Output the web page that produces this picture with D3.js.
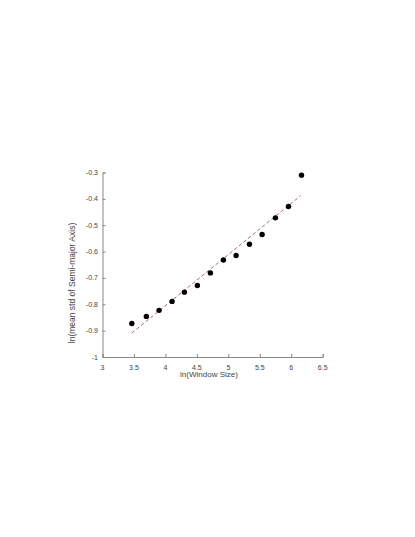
<!DOCTYPE html>
<html><head><meta charset="utf-8">
<script src="https://cdn.jsdelivr.net/npm/d3@7"></script>
<style>body{margin:0;background:#fff}svg{display:block}</style>
</head><body>
<script>
const xVals = [3.466, 3.697, 3.899, 4.106, 4.302, 4.508, 4.715, 4.922, 5.124, 5.336, 5.537, 5.749, 5.956, 6.163];
const yVals = [-0.873, -0.846, -0.823, -0.789, -0.754, -0.729, -0.681, -0.632, -0.615, -0.572, -0.535, -0.472, -0.429, -0.310];
const fitX = [3.466, 6.150];
const fitY = [-0.909, -0.388];
const xTicks = [3, 3.5, 4, 4.5, 5, 5.5, 6, 6.5];
const yTicks = [-1, -0.9, -0.8, -0.7, -0.6, -0.5, -0.4, -0.3];

const W = 415, H = 537;
const svg = d3.select("body").append("svg").attr("width", W).attr("height", H);
const x = d3.scaleLinear().domain([3, 6.5]).range([102.5, 322.7]);
const y = d3.scaleLinear().domain([-1, -0.3]).range([357, 172.5]);
const fmt = d => String(d);
const font = "'Liberation Sans', Arial, sans-serif";

const gx = svg.append("g").attr("transform", "translate(0,357)")
  .call(d3.axisTop(x).tickValues(xTicks).tickFormat(fmt).tickSize(3).tickPadding(0));
gx.selectAll("text").remove();
const gy = svg.append("g").attr("transform", "translate(102.5,0)")
  .call(d3.axisRight(y).tickValues(yTicks).tickFormat(fmt).tickSize(3));
gy.selectAll("text").remove();
svg.selectAll(".domain, .tick line").attr("stroke", "#888").attr("stroke-width", 1);

svg.append("g").selectAll("text").data(xTicks).join("text")
  .attr("x", d => x(d)).attr("y", 369.5).attr("text-anchor", "middle")
  .attr("font-family", font).attr("font-size", 7).attr("fill", "#444").text(fmt);
svg.append("g").selectAll("text").data(yTicks).join("text")
  .attr("x", 98).attr("y", d => y(d) + 2.5).attr("text-anchor", "end")
  .attr("font-family", font).attr("font-size", 7).attr("fill", "#444").text(fmt);

svg.append("text").attr("x", 209).attr("y", 377).attr("text-anchor", "middle")
  .attr("font-family", font).attr("font-size", 8).attr("fill", "#444").text("ln(Window Size)");
svg.append("text").attr("transform", "translate(74.5,283) rotate(-90)").attr("text-anchor", "middle")
  .attr("font-family", font).attr("font-size", 8.5).attr("fill", "#444").text("ln(mean std of Semi-major Axis)");

const line = d3.line().x((d, i) => x(fitX[i])).y((d, i) => y(fitY[i]));
svg.append("path").datum(fitX).attr("d", line).attr("fill", "none")
  .attr("stroke", "#a0585a").attr("stroke-width", 0.9).attr("stroke-dasharray", "3.5,2.5");

svg.append("g").selectAll("circle").data(xVals).join("circle")
  .attr("cx", d => x(d)).attr("cy", (d, i) => y(yVals[i])).attr("r", 2.7).attr("fill", "#000");
</script>
</body></html>
